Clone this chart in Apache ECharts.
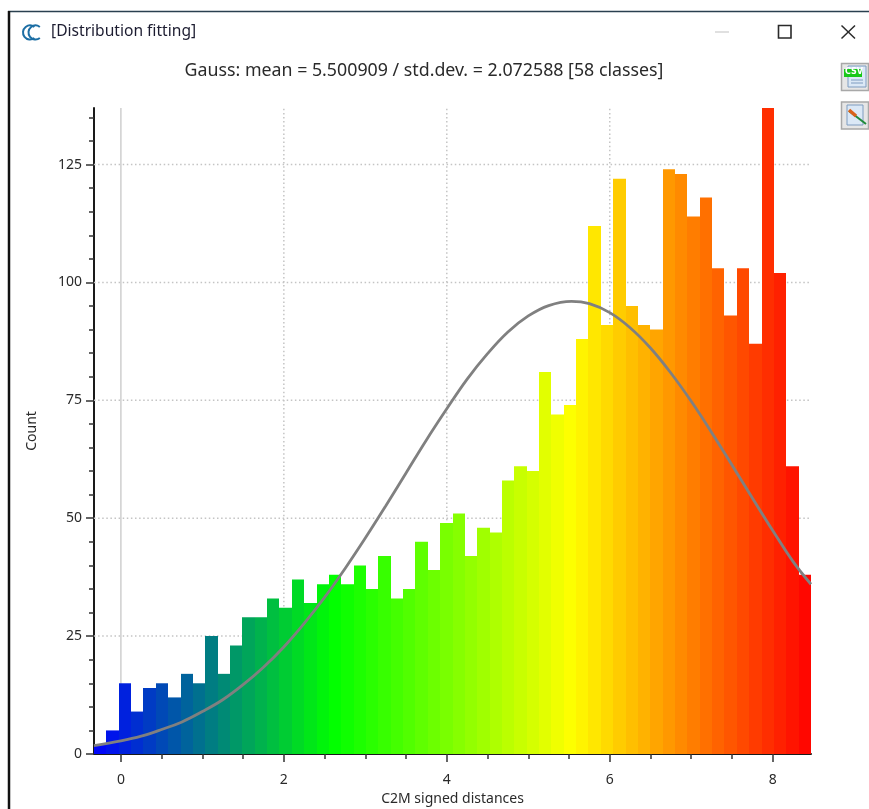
<!DOCTYPE html>
<html><head><meta charset="utf-8">
<style>html,body{margin:0;padding:0;background:#fff}#c{width:869px;height:809px}</style>
<script src="https://cdn.jsdelivr.net/npm/echarts@6/dist/echarts.min.js"></script>
</head><body><div id="c"></div>
<script>
var binCounts = [2,5,15,9,14,15,12,17,15,25,17,23,29,29,33,31,37,32,36,38,36,40,35,42,33,35,45,39,49,51,42,48,47,58,61,60,81,72,74,88,112,91,122,95,91,90,124,123,114,118,103,93,103,87,137,102,61,38];
var curveX = [-0.33,0,0.25,0.5,0.75,1,1.25,1.5,1.75,2,2.25,2.5,2.75,3,3.25,3.5,3.75,4,4.25,4.5,4.75,5,5.25,5.53,5.75,6,6.25,6.5,6.75,7,7.25,7.5,7.75,8,8.25,8.47];
var curveY = [1.8,2.8,3.8,5.2,6.8,9,11.5,14.7,18.4,22.7,27.7,33.2,39.3,45.8,52.6,59.6,66.6,73.2,79.5,84.9,89.5,92.9,95.1,96,95.5,93.6,90.4,86.1,80.8,74.8,68.2,61.3,54.3,47.4,40.8,36];
var xTicks = [0,2,4,6,8];
var xMinorTicks = [0.5,1,1.5,2.5,3,3.5,4.5,5,5.5,6.5,7,7.5];
var yTicks = [0,25,50,75,100,125];
var yMinorTicks = [5,10,15,20,30,35,40,45,55,60,65,70,80,85,90,95,105,110,115,120,130,135];
var colorStops = ['#0000ff','#00ff00','#ffff00','#ff0000'];
var xMin = -0.33, xMax = 8.47, yMin = 0, yMax = 137;
var titleText = 'Gauss: mean = 5.500909 / std.dev. = 2.072588 [58 classes]';
var windowTitle = '[Distribution fitting]';
var xName = 'C2M signed distances', yName = 'Count';

function hex(c){return [parseInt(c.slice(1,3),16),parseInt(c.slice(3,5),16),parseInt(c.slice(5,7),16)];}
function colorAt(t){
  var n=colorStops.length-1, p=Math.min(n-1e-6,Math.max(0,t*n)), i=Math.floor(p), f=p-i;
  var a=hex(colorStops[i]), b=hex(colorStops[i+1]);
  return 'rgb('+a.map(function(v,k){return Math.round(v+(b[k]-v)*f);}).join(',')+')';
}
var n = binCounts.length, w = (xMax-xMin)/n;
var histData = binCounts.map(function(v,i){
  return {value:[xMin+i*w, xMin+(i+1)*w, v], itemStyle:{color:colorAt((i+0.5)/n)}};
});
var curveData = curveX.map(function(x,i){return [x,curveY[i]];});
var gridData = xTicks.map(function(v){return [v,0,0];}).concat(yTicks.slice(1).map(function(v){return [0,v,1];}));

var GRID = {left:94,right:58,top:108,bottom:55,outerBoundsMode:'none'};
var chart = echarts.init(document.getElementById('c'),null,{renderer:'canvas'});
var font = '"Noto Sans", Arial, sans-serif';
var tc = '#2a2a2a';
function mkX(minor){return {type:'value',min:xMin,max:xMax,position:'bottom',
    name:minor?'':xName,nameLocation:'middle',nameGap:37,nameTextStyle:{fontFamily:font,fontSize:14,color:tc},
    axisLine:{show:!minor,onZero:false,lineStyle:{color:'#1a1a1a',width:2}},
    axisTick:{show:true,customValues:minor?xMinorTicks:xTicks,length:minor?5:8,lineStyle:{color:'#333',width:1.5}},
    axisLabel:{show:!minor,customValues:xTicks,margin:19,fontFamily:font,fontSize:14,color:tc},
    splitLine:{show:false}};}
function mkY(minor){return {type:'value',min:yMin,max:yMax,position:'left',
    name:minor?'':yName,nameLocation:'middle',nameGap:55,nameTextStyle:{fontFamily:font,fontSize:14,color:tc},
    axisLine:{show:!minor,onZero:false,lineStyle:{color:'#1a1a1a',width:2}},
    axisTick:{show:true,customValues:minor?yMinorTicks:yTicks,length:minor?5:8,lineStyle:{color:'#333',width:1.5}},
    axisLabel:{show:!minor,customValues:yTicks,margin:12,fontFamily:font,fontSize:14,color:tc},
    splitLine:{show:false}};}
chart.setOption({
  animation:false,
  backgroundColor:'#fff',
  title:{text:titleText,left:419,top:57,textAlign:'center',textStyle:{fontFamily:font,fontSize:17.8,fontWeight:'normal',color:'#2a2a2a'}},
  grid:GRID,
  xAxis:[mkX(false),mkX(true)],
  yAxis:[mkY(false),mkY(true)],
  series:[
    {type:'custom',name:'gridlines',silent:true,z:1,data:gridData,encode:{x:0,y:1},
     renderItem:function(p,api){
       var h=api.value(2)===1, a,b;
       if(h){a=api.coord([xMin,api.value(1)]);b=api.coord([xMax,api.value(1)]);}
       else{a=api.coord([api.value(0),yMin]);b=api.coord([api.value(0),yMax]);}
       var zero=!h&&api.value(0)===0;
       return {type:'line',shape:{x1:a[0],y1:a[1],x2:b[0],y2:b[1]},
         style:{stroke:zero?'#cfcfcf':'#c4c4c4',lineWidth:1.5,lineDash:zero?null:[1.5,2.6]}};
     }},
    {type:'custom',name:'histogram',z:2,data:histData,encode:{x:[0,1],y:2},
     renderItem:function(p,api){
       var a=api.coord([api.value(0),api.value(2)]), b=api.coord([api.value(1),0]);
       var x0=Math.round(a[0]), x1=Math.round(b[0]);
       return {type:'rect',shape:{x:x0,y:a[1],width:x1-x0,height:b[1]-a[1]},style:{fill:api.visual('color')}};
     }},
    {type:'line',name:'gauss',z:3,data:curveData,smooth:0.4,showSymbol:false,lineStyle:{color:'#808080',width:2.8}}
  ],
  graphic:[
    {type:'line',shape:{x1:8,y1:11.5,x2:869,y2:11.5},style:{stroke:'#2a4050',lineWidth:1.5}},
    {type:'line',shape:{x1:9,y1:11,x2:9,y2:809},style:{stroke:'#111',lineWidth:2.5}},
    {type:'arc',shape:{cx:30,cy:32.5,r:7,startAngle:0.9,endAngle:5.38},style:{fill:'none',stroke:'#1c6ea4',lineWidth:2}},
    {type:'arc',shape:{cx:35.5,cy:32.5,r:7,startAngle:0.9,endAngle:5.38},style:{fill:'none',stroke:'#1c6ea4',lineWidth:2}},
    {type:'text',left:51,top:24,style:{text:windowTitle,fill:'#1c1c30',font:'15.6px '+font}},
    {type:'line',shape:{x1:715,y1:32,x2:729,y2:32},style:{stroke:'#cccccc',lineWidth:1.2}},
    {type:'rect',shape:{x:778.5,y:25.5,width:12.5,height:12.5},style:{fill:'none',stroke:'#2a2a2a',lineWidth:1.6}},
    {type:'line',shape:{x1:841.5,y1:25.5,x2:855,y2:38.5},style:{stroke:'#2a2a2a',lineWidth:1.5}},
    {type:'line',shape:{x1:855,y1:25.5,x2:841.5,y2:38.5},style:{stroke:'#2a2a2a',lineWidth:1.5}},
    {type:'rect',shape:{x:841.5,y:63.5,width:27,height:27},style:{fill:'#e6e6e6',stroke:'#a8a8a8',lineWidth:1.5}},
    {type:'rect',shape:{x:848,y:66,width:18,height:21},style:{fill:'#dbe8f6',stroke:'#7f9cc0'}},
    {type:'rect',shape:{x:844,y:69,width:18,height:8},style:{fill:'#18c818'}},
    {type:'text',left:845,top:68,style:{text:'CSV',fill:'#fff',font:'bold 8px "DejaVu Sans"'}},
    {type:'line',shape:{x1:851,y1:80,x2:863,y2:80},style:{stroke:'#7f9cc0'}},
    {type:'line',shape:{x1:851,y1:83,x2:863,y2:83},style:{stroke:'#7f9cc0'}},
    {type:'rect',shape:{x:841.5,y:102,width:27,height:27},style:{fill:'#e6e6e6',stroke:'#a8a8a8',lineWidth:1.5}},
    {type:'rect',shape:{x:847,y:105,width:16,height:20},style:{fill:'#dbe8f6',stroke:'#7f9cc0'}},
    {type:'line',shape:{x1:849,y1:111,x2:866,y2:124},style:{stroke:'#1f8a3a',lineWidth:2}},
    {type:'line',shape:{x1:849,y1:110,x2:856,y2:116},style:{stroke:'#d9621a',lineWidth:3.5}}
  ]
});
</script></body></html>
